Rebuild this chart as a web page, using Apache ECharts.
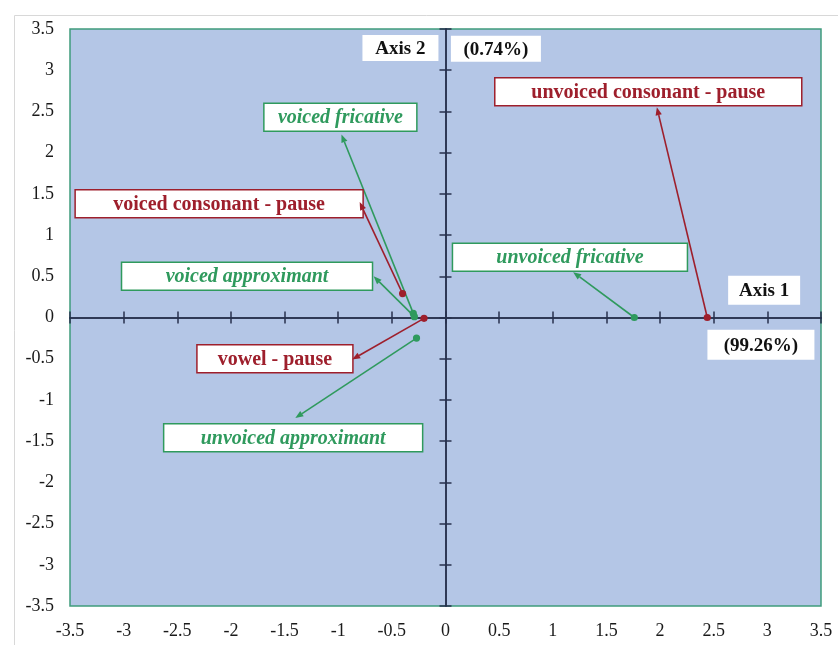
<!DOCTYPE html>
<html>
<head>
<meta charset="utf-8">
<script src="https://cdn.jsdelivr.net/npm/echarts@6/dist/echarts.min.js"></script>
<style>
html,body{margin:0;padding:0;background:#fff;}
#main{width:838px;height:645px;}
</style>
</head>
<body>
<div id="main"></div>
<script>
// ---- data ----
const axisMin = -3.5, axisMax = 3.5, axisStep = 0.5;

// pause categories (red)
const pauseNames = ['unvoiced consonant - pause', 'voiced consonant - pause', 'vowel - pause'];
const pauseX = [2.44, -0.40, -0.20];
const pauseY = [0.00, 0.29, -0.01];
// annotation: arrow tip and label-box centre (data units)
const pauseTipX = [1.97, -0.80, -0.87];
const pauseTipY = [2.55, 1.40, -0.51];
const pauseBoxX = [1.89, -2.11, -1.59];
const pauseBoxY = [2.74, 1.38, -0.50];

// phoneme classes (green)
const classNames = ['unvoiced fricative', 'voiced fricative', 'voiced approximant', 'unvoiced approximant'];
const classX = [1.76, -0.30, -0.29, -0.27];
const classY = [0.00, 0.05, 0.01, -0.25];
const classTipX = [1.19, -0.97, -0.67, -1.40];
const classTipY = [0.55, 2.22, 0.50, -1.22];
const classBoxX = [1.16, -0.98, -1.85, -1.42];
const classBoxY = [0.73, 2.43, 0.50, -1.46];

// axis titles
const axisTitles = ['Axis 2', '(0.74%)', 'Axis 1', '(99.26%)'];
const axisTitleX = [-0.42, 0.47, 2.97, 2.94];
const axisTitleY = [3.27, 3.26, 0.33, -0.33];

// ---- layout / style (not data) ----
const pauseBoxW = [307, 288, 156];
const classBoxW = [235, 153, 251, 259];
const titleBoxW = [76, 90, 72, 107];
const titleBoxH = [26, 26, 29, 30];
const RED = '#9e1f2c', GREEN = '#2f9a5d', AXIS = '#27304d';
const SERIF = '"Liberation Serif", "Times New Roman", serif';

function annotRender(names, widths, color, italic) {
  return function (params, api) {
    const i = params.dataIndex;
    const p = api.coord([api.value(0), api.value(1)]);
    const t = api.coord([api.value(2), api.value(3)]);
    const c = api.coord([api.value(4), api.value(5)]);
    const ang = Math.atan2(t[1] - p[1], t[0] - p[0]);
    const L = 8, W = 3.2;
    const bx = t[0] - L * Math.cos(ang), by = t[1] - L * Math.sin(ang);
    const nx = -Math.sin(ang) * W, ny = Math.cos(ang) * W;
    const w = widths[i], h = 28;
    return {
      type: 'group',
      children: [
        { type: 'rect', shape: { x: c[0] - w / 2, y: c[1] - h / 2, width: w, height: h },
          style: { fill: '#ffffff', stroke: color, lineWidth: 1.5 } },
        { type: 'text', style: { text: names[i], x: c[0], y: c[1] + 1, align: 'center', verticalAlign: 'middle',
          font: (italic ? 'italic ' : '') + 'bold 20px ' + SERIF, fill: color } },
        { type: 'line', shape: { x1: p[0], y1: p[1], x2: bx, y2: by },
          style: { stroke: color, lineWidth: 1.6 } },
        { type: 'polygon', shape: { points: [[t[0], t[1]], [bx + nx, by + ny], [bx - nx, by - ny]] },
          style: { fill: color } },
        { type: 'circle', shape: { cx: p[0], cy: p[1], r: 3.6 }, style: { fill: color } }
      ]
    };
  };
}

function titleRender(params, api) {
  const i = params.dataIndex;
  const c = api.coord([api.value(0), api.value(1)]);
  const w = titleBoxW[i], h = titleBoxH[i];
  return {
    type: 'group',
    children: [
      { type: 'rect', shape: { x: c[0] - w / 2, y: c[1] - h / 2, width: w, height: h }, style: { fill: '#ffffff' } },
      { type: 'text', style: { text: axisTitles[i], x: c[0], y: c[1] + 1, align: 'center', verticalAlign: 'middle',
        font: 'bold 19px ' + SERIF, fill: '#111' } }
    ]
  };
}

const valueAxisBase = { type: 'value', min: axisMin, max: axisMax, interval: axisStep, splitLine: { show: false } };
const labelFont = { fontFamily: SERIF, fontSize: 18, color: '#1a1a1a' };

const option = {
  animation: false,
  backgroundColor: '#ffffff',
  graphic: [{ type: 'rect', left: 12, top: 13, shape: { width: 900, height: 700 },
    style: { fill: 'none', stroke: '#d8d8d8', lineWidth: 1 }, z: -10 }],
  grid: { left: 70, right: 17, top: 29, bottom: 39, show: true, backgroundColor: '#b4c6e6',
    borderColor: '#3f9c7c', borderWidth: 1.5 },
  xAxis: [
    Object.assign({}, valueAxisBase, { position: 'bottom', axisLine: { show: false }, axisTick: { show: false },
      axisLabel: Object.assign({ margin: 16 }, labelFont) }),
    Object.assign({}, valueAxisBase, { axisLine: { onZero: true, lineStyle: { color: AXIS, width: 1.5 } },
      axisTick: { show: true, length: 6, inside: false, lineStyle: { color: AXIS, width: 1.5 } }, axisLabel: { show: false } }),
    Object.assign({}, valueAxisBase, { axisLine: { onZero: true, lineStyle: { color: AXIS, width: 1.5 } },
      axisTick: { show: true, length: 6, inside: true, lineStyle: { color: AXIS, width: 1.5 } }, axisLabel: { show: false } })
  ],
  yAxis: [
    Object.assign({}, valueAxisBase, { position: 'left', axisLine: { show: false }, axisTick: { show: false },
      axisLabel: Object.assign({ margin: 16 }, labelFont) }),
    Object.assign({}, valueAxisBase, { axisLine: { onZero: true, lineStyle: { color: AXIS, width: 1.5 } },
      axisTick: { show: true, length: 6, inside: false, lineStyle: { color: AXIS, width: 1.5 } }, axisLabel: { show: false } }),
    Object.assign({}, valueAxisBase, { axisLine: { onZero: true, lineStyle: { color: AXIS, width: 1.5 } },
      axisTick: { show: true, length: 6, inside: true, lineStyle: { color: AXIS, width: 1.5 } }, axisLabel: { show: false } })
  ],
  series: [
    { type: 'custom', name: 'axis titles', clip: false, z: 3, renderItem: titleRender,
      data: axisTitles.map((_, i) => [axisTitleX[i], axisTitleY[i]]) },
    { type: 'custom', name: 'phoneme classes', clip: false, z: 4, renderItem: annotRender(classNames, classBoxW, GREEN, true),
      data: classNames.map((_, i) => [classX[i], classY[i], classTipX[i], classTipY[i], classBoxX[i], classBoxY[i]]) },
    { type: 'custom', name: 'pauses', clip: false, z: 5, renderItem: annotRender(pauseNames, pauseBoxW, RED, false),
      data: pauseNames.map((_, i) => [pauseX[i], pauseY[i], pauseTipX[i], pauseTipY[i], pauseBoxX[i], pauseBoxY[i]]) }
  ]
};

const chart = echarts.init(document.getElementById('main'), null, { renderer: 'canvas' });
chart.setOption(option);
</script>
</body>
</html>
